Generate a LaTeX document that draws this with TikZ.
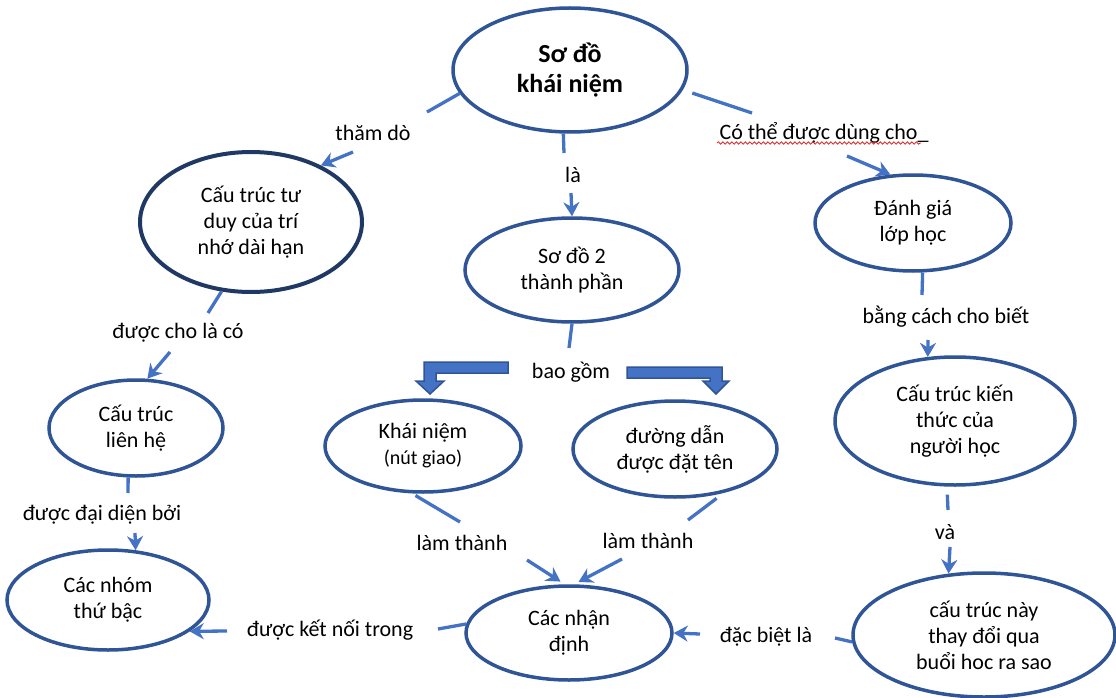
\documentclass[tikz,border=0pt]{standalone}
\usepackage{fontspec}
\setmainfont{Carlito}
\usetikzlibrary{shapes.geometric,arrows.meta,decorations.pathmorphing}
\definecolor{lineblue}{RGB}{68,114,196}
\definecolor{ringblue}{RGB}{47,85,151}
\definecolor{navyring}{RGB}{31,56,100}
\definecolor{wavyred}{RGB}{220,40,40}
\begin{document}
\begin{tikzpicture}[x=1pt,y=-1pt,
  concept/.style={ellipse, draw=ringblue, line width=3.5pt, inner sep=0pt, align=center,
    font=\fontsize{22}{26}\selectfont},
  lbl/.style={inner sep=1pt, font=\fontsize{22}{26}\selectfont},
  link/.style={draw=lineblue, line width=3.3pt},
  arr/.style={link, -{Stealth[length=14pt,width=16pt]}},
  blockarrow/.style={fill=lineblue, draw=ringblue, line width=1.5pt, line join=miter},
]
\useasboundingbox (0,0) rectangle (1116,698);

% concept ellipses
\node[concept, minimum width=234pt, minimum height=124pt, font=\bfseries\fontsize{26}{30}\selectfont] (top) at (570,70) {Sơ đồ\\khái niệm};
\node[concept, draw=navyring, line width=4pt, minimum width=222pt, minimum height=140pt] (ltm) at (251,222) {Cấu trúc tư\\duy của trí\\nhớ dài hạn};
\node[concept, minimum width=214pt, minimum height=104pt] (two) at (572,270) {Sơ đồ 2\\thành phần};
\node[concept, minimum width=196pt, minimum height=96pt] (eval) at (913,223) {Đánh giá\\lớp học};
\node[concept, minimum width=240pt, minimum height=128pt] (know) at (955,421) {Cấu trúc kiến\\thức của\\người học};
\node[concept, minimum width=174pt, minimum height=96pt] (rel) at (136,428) {Cấu trúc\\liên hệ};
\node[concept, minimum width=196pt, minimum height=92pt] (cpt) at (423,446) {Khái niệm\\{\fontsize{20}{24}\selectfont (nút giao)}};
\node[concept, minimum width=204pt, minimum height=96pt] (path) at (675,449) {đường dẫn\\được đặt tên};
\node[concept, minimum width=202pt, minimum height=100pt] (hier) at (108,600) {Các nhóm\\thứ bậc};
\node[concept, minimum width=206pt, minimum height=94pt] (prop) at (569,633) {Các nhận\\định};
\node[concept, minimum width=262pt, minimum height=124pt] (chg) at (984,635) {cấu trúc này\\thay đổi qua\\buổi hoc ra sao};

% link labels
\node[lbl] (l1) at (373,133) {thăm dò};
\node[lbl] (l2) at (573,175) {là};
\node[lbl] (l3) at (824,133) {Có thể được dùng cho\_};
\node[lbl] (l4) at (178,333) {được cho là có};
\node[lbl] (l5) at (571,372) {bao gồm};
\node[lbl] (l6) at (946,317) {bằng cách cho biết};
\node[lbl] (l7) at (102,515) {được đại diện bởi};
\node[lbl] (l8) at (462,543) {làm thành};
\node[lbl] (l9) at (648,541) {làm thành};
\node[lbl] (l10) at (945,532) {và};
\node[lbl] (l11) at (330,630) {được kết nối trong};
\node[lbl] (l12) at (766,637) {đặc biệt là};

% red wavy underline
\coordinate (w1) at (717,143);
\coordinate (w2) at (921,143);
\draw[wavyred, line width=0.8pt, decorate, decoration={snake, amplitude=1.2pt, segment length=4.5pt}] (w1) -- (w2);

% connector free ends
\coordinate (a1) at (427,112);
\coordinate (a2) at (353,152);
\coordinate (b1) at (564,153);
\coordinate (b2) at (571,193);
\coordinate (c1) at (752,113);
\coordinate (c2) at (847,156);
\coordinate (d1) at (208,313);
\coordinate (d2) at (170,352);
\coordinate (e1) at (569,348);
\coordinate (f1) at (922,295);
\coordinate (f2) at (928,340);
\coordinate (g1) at (128,493);
\coordinate (g2) at (135,533);
\coordinate (h1) at (460,522);
\coordinate (h2) at (527,560);
\coordinate (i1) at (688,520);
\coordinate (i2) at (622,559);
\coordinate (j1) at (948,510);
\coordinate (j2) at (950,547);
\coordinate (k1) at (835,638);
\coordinate (k2) at (700,634);
\coordinate (m1) at (438,629);
\coordinate (m2) at (227,631);

% connectors
\draw[link] (top.192) -- (a1);
\draw[arr] (a2) -- (ltm.39);
\draw[link] (top.-96) -- (b1);
\draw[arr] (b2) -- (two.north);
\draw[link, shorten <=10pt] (top.-10) -- (c1);
\draw[arr] (c2) -- (eval.115);
\draw[link] (ltm.-113) -- (d1);
\draw[arr] (d2) -- (rel.77);
\draw[link] (two.south) -- (e1);
\draw[link] (eval.-79) -- (f1);
\draw[arr] (f2) -- (know.113);
\draw[link] (rel.-99) -- (g1);
\draw[arr] (g2) -- (hier.61);
\draw[link, shorten <=4pt] (cpt.-103) -- (h1);
\draw[arr, shorten >=5pt] (h2) -- (prop.95);
\draw[link, shorten <=9pt] (path.-42) -- (i1);
\draw[arr, shorten >=5pt] (i2) -- (prop.84);
\draw[link, shorten <=8pt] (know.-97) -- (j1);
\draw[arr] (j2) -- (chg.120);
\draw[link] (chg.183) -- (k1);
\draw[arr] (k2) -- (prop.east);
\draw[link] (prop.175) -- (m1);
\draw[arr] (m2) -- (hier.-21);

% block elbow arrows for "bao gồm"
\draw[blockarrow] (508,362) -- (424,362) -- (424,381) -- (416,381) -- (430,394) -- (444,381) -- (436,381) -- (436,373) -- (508,373) -- cycle;
\draw[blockarrow] (627,367) -- (722,367) -- (722,381) -- (729,381) -- (716,394) -- (703,381) -- (710,381) -- (710,378) -- (627,378) -- cycle;
\end{tikzpicture}
\end{document}
